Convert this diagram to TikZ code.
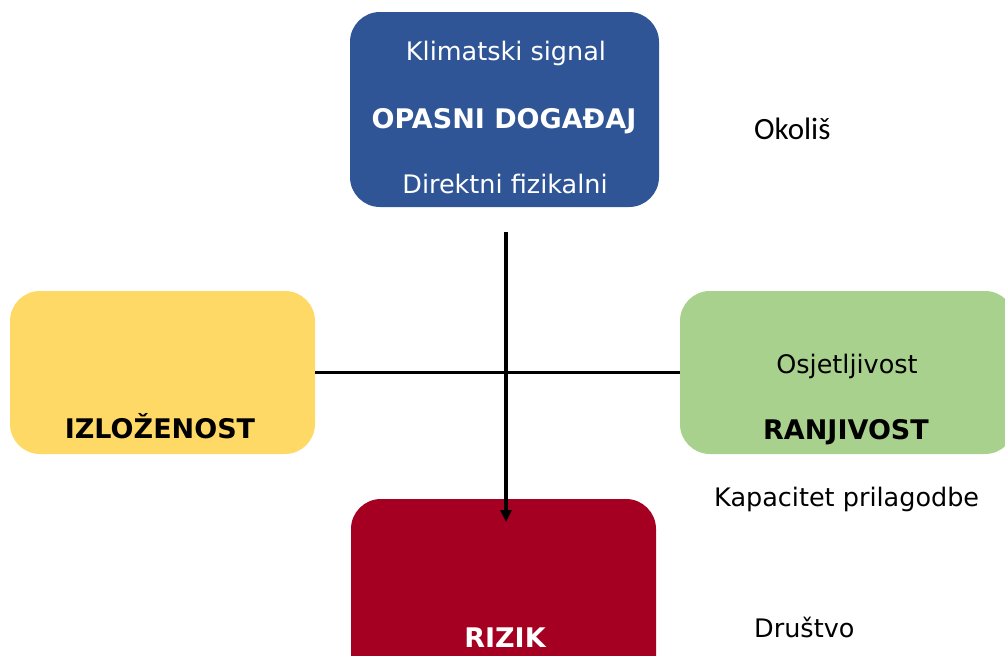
\documentclass[tikz,border=0pt]{standalone}
\usepackage{fontspec}
\setmainfont{DejaVu Sans}
\newfontfamily\calfont{Carlito}
\usetikzlibrary{arrows.meta}
\definecolor{hazblue}{HTML}{2F5597}
\definecolor{expyel}{HTML}{FFD966}
\definecolor{vulgrn}{HTML}{A9D18E}
\definecolor{riskred}{HTML}{A50021}
\tikzset{
  box/.style={rectangle, rounded corners=30pt, draw=none, inner sep=0pt},
  reg/.style={anchor=base, inner sep=0pt, font=\fontsize{25.5}{30}\selectfont},
  bld/.style={anchor=base, inner sep=0pt, font=\fontsize{27}{32}\selectfont\bfseries},
  side/.style={anchor=base west, inner sep=0pt, font=\fontsize{25.5}{30}\selectfont},
  conn/.style={line width=3.3pt, black},
}
\begin{document}
\begin{tikzpicture}[x=1pt, y=-1pt]
\useasboundingbox (0,0) rectangle (1005,656);
% boxes
\node[box, fill=hazblue, minimum width=309pt, minimum height=195pt] (haz) at (504.5,109.5) {};
\node[box, fill=expyel, minimum width=305pt, minimum height=163pt] (exp) at (162.5,372.5) {};
\node[box, fill=vulgrn, minimum width=335pt, minimum height=163pt] (vul) at (847.5,372.5) {};
\node[box, fill=riskred, minimum width=305pt, minimum height=200pt] (risk) at (503.5,599) {};
% texts
\node[reg, text=white] (t1) at (506,60) {Klimatski signal};
\node[bld, text=white] (t2) at (504,128) {OPASNI DOGAĐAJ};
\node[reg, text=white] (t3) at (505,193) {Direktni fizikalni};
\node[bld] (t4) at (160,438) {IZLOŽENOST};
\node[reg] (t5) at (847,373) {Osjetljivost};
\node[bld] (t6) at (846,439) {RANJIVOST};
\node[bld, text=white] (t7) at (505,647) {RIZIK};
\node[anchor=base west, inner sep=0pt, font=\calfont\fontsize{31}{36}\selectfont] (t8) at (754,139) {Okoliš};
\node[side] (t9) at (714,506) {Kapacitet prilagodbe};
\node[side] (t10) at (754,637) {Društvo};
% connectors
\coordinate (arrtop) at (506,232);
\coordinate (arrend) at (506,522);
\draw[conn] (exp.east) -- (vul.west);
\draw[conn, -{Triangle[length=12pt,width=11pt]}] (arrtop) -- (arrend);
\end{tikzpicture}
\end{document}
